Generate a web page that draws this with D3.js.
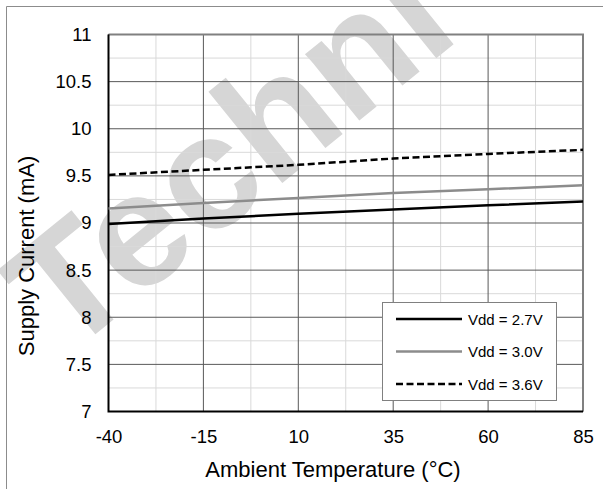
<!DOCTYPE html>
<html>
<head>
<meta charset="utf-8">
<script src="https://cdn.jsdelivr.net/npm/d3@7"></script>
<style>
	html, body {margin: 0; padding: 0; background: #fff;}
	svg {display: block; font-family: 'Liberation Sans', Arial, sans-serif;}
</style>
</head>
<body>
<div id="chart"></div>
<script>
// chart values
var temperatures = [-40, -15, 10, 35, 60, 85];
var vdd27 = [8.99, 9.047, 9.097, 9.142, 9.188, 9.227];
var vdd30 = [9.153, 9.213, 9.266, 9.319, 9.358, 9.40];
var vdd36 = [9.51, 9.564, 9.617, 9.684, 9.733, 9.776];
var seriesNames = ['Vdd = 2.7V', 'Vdd = 3.0V', 'Vdd = 3.6V'];
var xTicks = [-40, -15, 10, 35, 60, 85];
var xMinorTicks = [-27.5, -2.5, 22.5, 47.5, 72.5];
var yTicks = [7, 7.5, 8, 8.5, 9, 9.5, 10, 10.5, 11];
var yMinorTicks = [7.25, 7.75, 8.25, 8.75, 9.25, 9.75, 10.25, 10.75];

(function() {
	'use strict';

	var W = 603, H = 489;
	var plot = {left: 108.5, right: 583, top: 34.5, bottom: 411.5};

	var svg = d3.select('#chart').append('svg')
		.attr('width', W).attr('height', H);

	svg.append('rect').attr('width', W).attr('height', H).attr('fill', '#fff');

	// watermark sits under everything else
	svg.append('text')
		.attr('transform', 'translate(66,358) rotate(-39)')
		.attr('font-size', 162)
		.attr('font-weight', 'bold')
		.attr('fill', '#d6d6d6')
		.text('Techni');

	// outer chart frame (only top/left show inside the crop)
	svg.append('path')
		.attr('d', 'M6.5,' + H + 'V6.5H' + W)
		.attr('fill', 'none')
		.attr('stroke', '#8c8c8c')
		.attr('stroke-width', 1);

	var x = d3.scaleLinear().domain([-40, 85]).range([plot.left, plot.right]);
	var y = d3.scaleLinear().domain([7, 11]).range([plot.bottom, plot.top]);

	var grid = svg.append('g');
	grid.selectAll('.vminor').data(xMinorTicks).enter().append('line')
		.attr('x1', function(d) {return x(d);}).attr('x2', function(d) {return x(d);})
		.attr('y1', plot.top).attr('y2', plot.bottom)
		.attr('stroke', '#d9d9d9');
	grid.selectAll('.hminor').data(yMinorTicks).enter().append('line')
		.attr('y1', function(d) {return y(d);}).attr('y2', function(d) {return y(d);})
		.attr('x1', plot.left).attr('x2', plot.right)
		.attr('stroke', '#d9d9d9');
	grid.selectAll('.vmajor').data(xTicks).enter().append('line')
		.attr('x1', function(d) {return x(d);}).attr('x2', function(d) {return x(d);})
		.attr('y1', plot.top).attr('y2', plot.bottom)
		.attr('stroke', '#595959');
	grid.selectAll('.hmajor').data(yTicks).enter().append('line')
		.attr('y1', function(d) {return y(d);}).attr('y2', function(d) {return y(d);})
		.attr('x1', plot.left).attr('x2', plot.right)
		.attr('stroke', '#595959');

	// plot border: grey top/right, black axes left/bottom
	svg.append('path')
		.attr('d', 'M' + plot.left + ',' + plot.top + 'H' + plot.right + 'V' + plot.bottom)
		.attr('fill', 'none').attr('stroke', '#808080').attr('stroke-width', 2);
	svg.append('path')
		.attr('d', 'M' + plot.left + ',' + plot.top + 'V' + plot.bottom + 'H' + plot.right)
		.attr('fill', 'none').attr('stroke', '#000').attr('stroke-width', 2);

	// axes via d3, tick lines hidden (grid does the job)
	var xAxis = svg.append('g')
		.attr('transform', 'translate(0,' + plot.bottom + ')')
		.call(d3.axisBottom(x).tickValues(xTicks).tickSize(0).tickPadding(18.5)
			.tickFormat(function(d) {return String(d);}));
	var yAxis = svg.append('g')
		.attr('transform', 'translate(' + plot.left + ',0)')
		.call(d3.axisLeft(y).tickValues(yTicks).tickSize(0).tickPadding(17)
			.tickFormat(function(d) {return String(d);}));
	[xAxis, yAxis].forEach(function(ax) {
		ax.select('.domain').remove();
		ax.selectAll('text')
			.attr('font-family', "'Liberation Sans', Arial, sans-serif")
			.attr('font-size', 18.5)
			.attr('fill', '#000');});

	svg.append('text')
		.attr('x', 333).attr('y', 476.5)
		.attr('text-anchor', 'middle')
		.attr('font-size', 22)
		.text('Ambient Temperature (°C)');
	svg.append('text')
		.attr('transform', 'translate(34,256) rotate(-90)')
		.attr('text-anchor', 'middle')
		.attr('font-size', 22)
		.text('Supply Current (mA)');

	var series = [
		{name: seriesNames[0], values: vdd27, color: '#000', dash: null},
		{name: seriesNames[1], values: vdd30, color: '#8c8c8c', dash: null},
		{name: seriesNames[2], values: vdd36, color: '#000', dash: '7,3.5'}];

	var line = d3.line()
		.x(function(d) {return x(d[0]);})
		.y(function(d) {return y(d[1]);});

	svg.selectAll('.series').data(series).enter().append('path')
		.attr('d', function(s) {return line(d3.zip(temperatures, s.values));})
		.attr('fill', 'none')
		.attr('stroke', function(s) {return s.color;})
		.attr('stroke-width', 2.5)
		.attr('stroke-dasharray', function(s) {return s.dash;});

	// legend
	var legend = svg.append('g').attr('transform', 'translate(382.5,302.5)');
	legend.append('rect')
		.attr('width', 174).attr('height', 98)
		.attr('fill', '#fff').attr('stroke', '#808080');
	var rows = legend.selectAll('.row').data(series).enter().append('g')
		.attr('transform', function(s, i) {return 'translate(0,' + (16.5 + i * 32.5) + ')';});
	rows.append('line')
		.attr('x1', 13.5).attr('x2', 79.5)
		.attr('stroke', function(s) {return s.color;})
		.attr('stroke-width', 2.5)
		.attr('stroke-dasharray', function(s) {return s.dash;});
	rows.append('text')
		.attr('x', 85.5).attr('y', 5.5)
		.attr('font-size', 15)
		.text(function(s) {return s.name;});
})();
</script>
</body>
</html>
